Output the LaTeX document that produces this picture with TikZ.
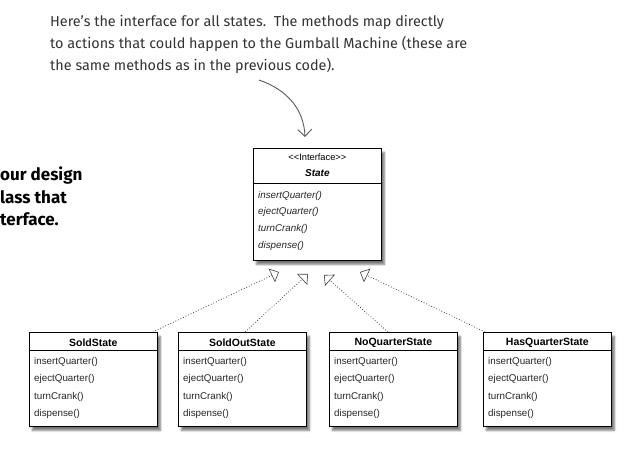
\documentclass[tikz,border=0pt]{standalone}
\usepackage{fontspec}
\setmainfont{Liberation Sans}
\newfontfamily\handfont{Fira Sans}
\usetikzlibrary{arrows.meta,shadows.blur}
\newcommand\umlclass[3]{%
  \node[classbox] (#1) at (#2,332) {};
  \draw[thin] ([yshift=-18pt]#1.north west) -- ([yshift=-18pt]#1.north east);
  \node[ttl] (#1T) at ([yshift=-11pt]#1.north) {#3};
  \node[meth] (#1M1) at ([xshift=5pt,yshift=-30pt]#1.north west) {insertQuarter()};
  \node[meth] (#1M2) at ([xshift=5pt,yshift=-47pt]#1.north west) {ejectQuarter()};
  \node[meth] (#1M3) at ([xshift=5pt,yshift=-65pt]#1.north west) {turnCrank()};
  \node[meth] (#1M4) at ([xshift=5pt,yshift=-82pt]#1.north west) {dispense()};
}
\begin{document}
\begin{tikzpicture}[x=1pt,y=-1pt,
  classbox/.style={draw=black, line width=0.7pt, fill=white,
    blur shadow={shadow xshift=3pt,shadow yshift=-4pt,shadow blur steps=6,shadow opacity=55},
    anchor=north west, inner sep=0pt, minimum width=128pt, minimum height=94pt},
  ttl/.style={font=\bfseries\fontsize{10.5}{12}\selectfont, inner sep=0pt},
  meth/.style={font=\fontsize{9.8}{12}\selectfont, anchor=west, inner sep=0pt, text=black!85},
  imeth/.style={meth, font=\itshape\fontsize{9.8}{12}\selectfont},
  real/.style={dotted, line width=0.8pt, black!75,
    -{Triangle[open, length=8pt, width=15pt, line width=0.6pt]}},
  note/.style={font=\handfont\fontsize{14.4}{16}\selectfont, text=black!80, anchor=west, inner sep=0pt},
  bignote/.style={font=\handfont\bfseries\fontsize{17}{19}\selectfont, text=black, anchor=west, inner sep=0pt},
  curvy/.style={black!65, line width=0.9pt, -{Straight Barb[length=7pt,width=14pt,line width=0.9pt]}}
]
\useasboundingbox (0,0) rectangle (640,450);

% annotation
\node[note] (n1) at (50,22) {Here’s the interface for all states.\ \ The methods map directly};
\node[note] (n2) at (50,44) {to actions that could happen to the Gumball Machine (these are};
\node[note] (n3) at (50,66) {the same methods as in the previous code).};
\coordinate (cs) at (259,80);
\coordinate (ce) at (305,137);
\draw[curvy] (cs) .. controls (288,90) and (304,110) .. (ce);

% left text
\node[bignote] (l1) at (0,175) {our design};
\node[bignote] (l2) at (0,197) {lass that};
\node[bignote] (l3) at (0,219) {terface.};

% interface box
\node[classbox, minimum height=112pt] (state) at (253,148) {};
\draw[thin] ([yshift=-35pt]state.north west) -- ([yshift=-35pt]state.north east);
\node[font=\fontsize{9.3}{11}\selectfont, inner sep=0pt] (stI) at ([yshift=-9pt]state.north) {{<}{<}Interface{>}{>}};
\node[font=\bfseries\itshape\fontsize{10}{12}\selectfont, inner sep=0pt] (stN) at ([yshift=-25pt]state.north) {State};
\node[imeth] (stM1) at ([xshift=5pt,yshift=-48pt]state.north west) {insertQuarter()};
\node[imeth] (stM2) at ([xshift=5pt,yshift=-64pt]state.north west) {ejectQuarter()};
\node[imeth] (stM3) at ([xshift=5pt,yshift=-81pt]state.north west) {turnCrank()};
\node[imeth] (stM4) at ([xshift=5pt,yshift=-98pt]state.north west) {dispense()};

% concrete classes
\umlclass{sold}{29}{SoldState}
\umlclass{soldout}{178}{SoldOutState}
\umlclass{noq}{329}{NoQuarterState}
\umlclass{hasq}{483}{HasQuarterState}

% realization arrows
\coordinate (t1) at (279,272);
\coordinate (t2) at (308,274);
\coordinate (t3) at (324,275);
\coordinate (t4) at (360,272);
\draw[real] ([xshift=-5pt]sold.north east) -- (t1);
\draw[real] ([xshift=67pt]soldout.north west) -- (t2);
\draw[real] ([xshift=59pt]noq.north west) -- (t3);
\draw[real] ([xshift=2pt]hasq.north west) -- (t4);
\end{tikzpicture}
\end{document}
